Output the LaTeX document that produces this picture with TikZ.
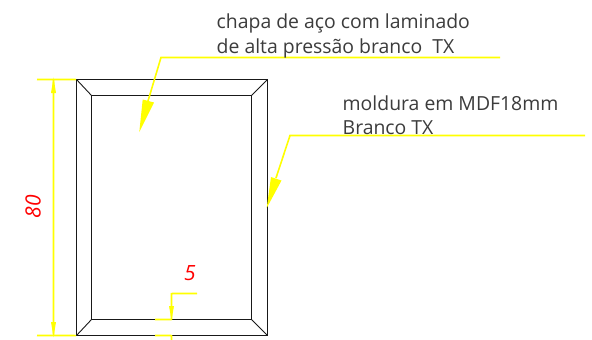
\documentclass[tikz,border=0pt]{standalone}
\usepackage{fontspec}
\setmainfont{Open Sans}
\definecolor{dimy}{RGB}{255,255,0}
\definecolor{frameline}{RGB}{25,25,25}
\definecolor{lbltxt}{RGB}{60,60,60}
\tikzset{
 x=1pt,y=-1pt,
 frameln/.style={draw=frameline,line width=1pt,line join=miter},
 bevel/.style={draw=frameline,line width=0.9pt},
 dimln/.style={draw=dimy,line width=1.6pt},
 leaderln/.style={draw=dimy,line width=1.6pt},
 headfill/.style={fill=dimy,draw=none},
 lbl/.style={inner sep=0pt,anchor=base west,text=lbltxt,font=\fontsize{19.4}{22}\selectfont},
 dimtxt/.style={inner sep=0pt,text=red,font=\fontsize{21}{24}\selectfont\itshape}
}
\begin{document}
\begin{tikzpicture}
\useasboundingbox (0,0) rectangle (592,340);
\fill[white] (0,0) rectangle (592,340);
% named corners
\coordinate (ol) at (76.5,79.5); \coordinate (or) at (267.5,79.5);
\coordinate (ul) at (76.5,335.5); \coordinate (ur) at (267.5,335.5);
\coordinate (il) at (91.5,95.5); \coordinate (ir) at (251.5,95.5);
\coordinate (jl) at (91.5,319.5); \coordinate (jr) at (251.5,319.5);
% frame
\draw[frameln] (ol) rectangle (ur);
\draw[frameln] (il) rectangle (jr);
\draw[bevel] (ol) -- (il);
\draw[bevel] (or) -- (ir);
\draw[bevel] (ul) -- (jl);
\draw[bevel] (ur) -- (jr);
% 80 dimension
\coordinate (e1a) at (37,79.45); \coordinate (e2a) at (37,335.45);
\coordinate (d1) at (53.45,79.5); \coordinate (d2) at (53.55,335.5);
\coordinate (e1b) at (76,79.55); \coordinate (e2b) at (76,335.55);
\draw[dimln] (e1a) -- (e1b);
\draw[dimln] (e2a) -- (e2b);
\draw[dimln] (d1) -- (d2);
\fill[headfill] (53.5,77.5) -- (56,93) -- (51,93) -- cycle;
\fill[headfill] (53.5,337) -- (56,322) -- (51,322) -- cycle;
\node[dimtxt,rotate=90] (n80) at (33,207) {80};
% 5 dimension
\coordinate (f1) at (197,293.45); \coordinate (f2) at (171.45,293.55);
\coordinate (f3) at (171.55,319.5); \coordinate (g1) at (155,319.45);
\coordinate (g2) at (155,335.45); \coordinate (g3) at (171.45,335.55); \coordinate (g4) at (171.55,340);
\draw[dimln] (f1) -- (f2) -- (f3);
\draw[dimln] (g1) -- (f3);
\draw[dimln] (g2) -- (g3) -- (g4);
\fill[headfill] (171.5,320) -- (169,306) -- (174,306) -- cycle;
\node[dimtxt] (n5) at (190,273.5) {5};
% leader 1
\coordinate (l1a) at (500,57.5); \coordinate (l1b) at (161,57.5); \coordinate (l1c) at (148,101);
\draw[leaderln] (l1a) -- (l1b) -- (l1c);
\fill[headfill] (139.3,132) -- (142.7,99.5) -- (154,102.5) -- cycle;
% leader 2
\coordinate (l2a) at (585,135.5); \coordinate (l2b) at (290,135.5); \coordinate (l2c) at (276,178);
\draw[leaderln] (l2a) -- (l2b) -- (l2c);
\fill[headfill] (266.7,208) -- (271,177) -- (281.5,180.5) -- cycle;
% labels
\node[lbl] (t1) at (216.5,28) {chapa de aço com laminado};
\node[lbl] (t2) at (216.5,53) {de alta pressão branco\ \ TX};
\node[lbl] (t3) at (342.5,110) {moldura em MDF18mm};
\node[lbl] (t4) at (342.5,134.5) {Branco TX};
\end{tikzpicture}
\end{document}
